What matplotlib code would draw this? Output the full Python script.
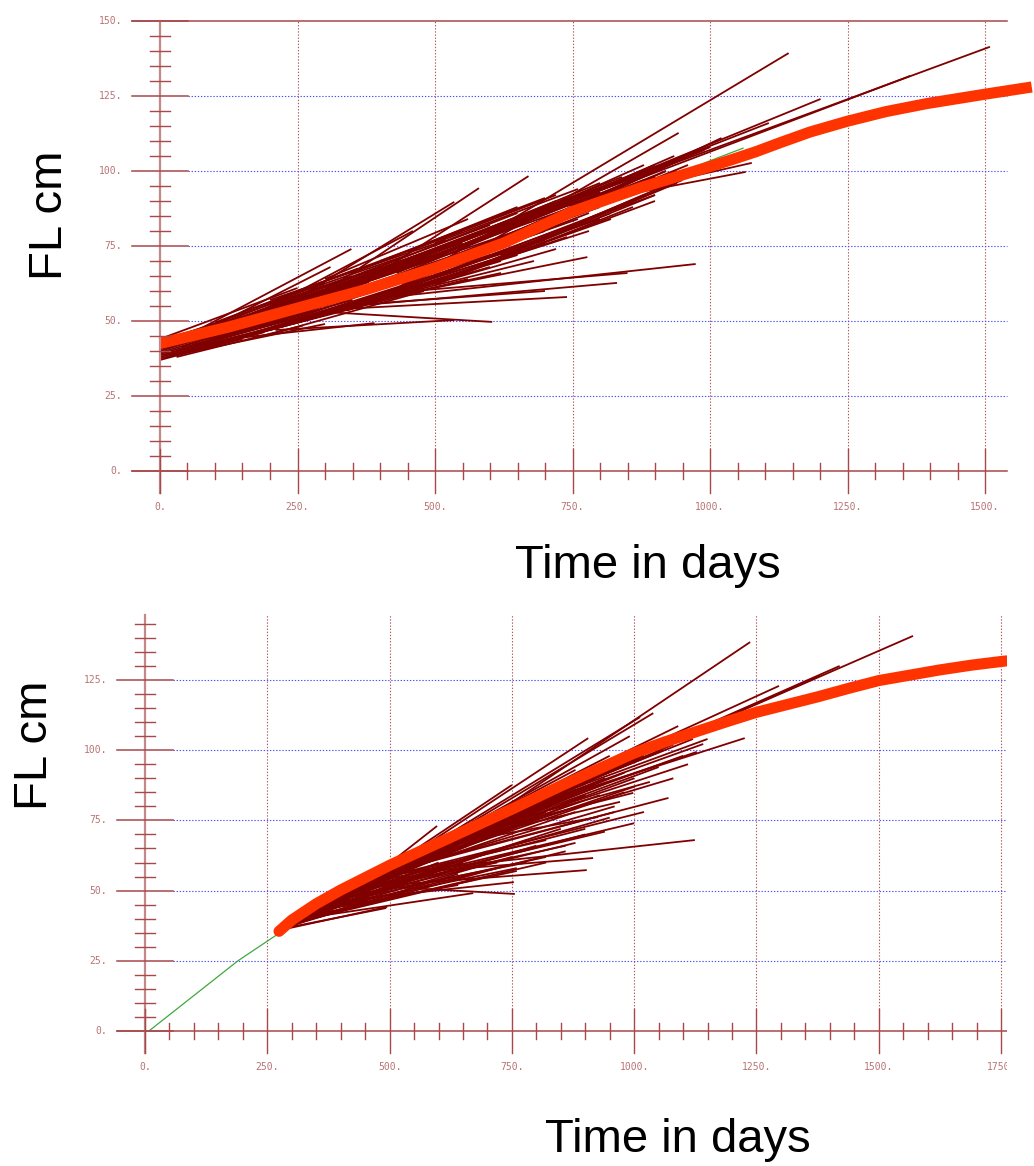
import matplotlib
matplotlib.use("Agg")
import matplotlib.pyplot as plt
from matplotlib.collections import LineCollection

W, H = 1034, 1166

# ---------------- dati: pannello alto ----------------
top_curve_t = [0, 125, 250, 375, 500, 625, 750, 875, 1000, 1040, 1083, 1130, 1182,
               1250, 1320, 1395, 1500, 1585]
top_curve_fl = [42.5, 48.0, 54.3, 60.5, 67.7, 76.0, 86.5, 94.5, 101.5, 103.8, 106.4,
                109.6, 113.0, 116.6, 119.8, 122.5, 125.6, 128.0]
top_green_t = [940, 1000, 1060]
top_green_fl = [99.0, 103.4, 107.6]

# (giorno rilascio, FL rilascio, giorno ricattura, FL ricattura)
top_tags = [
    # bordo inferiore
    (0, 37.0, 190, 46.3), (10, 38.0, 300, 49.0), (150, 44.5, 390, 49.3),
    (210, 47.0, 535, 50.3), (300, 53.0, 604, 49.7), (330, 54.0, 740, 58.0),
    (380, 55.5, 831, 62.7), (420, 58.0, 974, 69.0), (430, 58.5, 777, 71.3),
    (400, 56.0, 700, 60.0), (460, 60.0, 850, 66.0),
    # bordo superiore
    (69, 47.0, 348, 74.0), (100, 48.5, 310, 68.0), (150, 50.0, 460, 80.0),
    (200, 52.0, 535, 89.7), (260, 55.0, 580, 94.3), (330, 58.0, 670, 98.3),
    (400, 57.5, 1143, 139.3), (520, 68.0, 943, 112.7), (560, 71.0, 1021, 111.0),
    (600, 80.0, 1509, 141.4), (620, 80.0, 1364, 131.7), (640, 82.0, 1201, 124.0),
    (660, 84.0, 1107, 116.0), (700, 87.0, 1065, 99.7), (720, 88.0, 1076, 102.7),
    (680, 86.0, 1000, 108.0), (700, 88.0, 960, 105.0), (650, 83.0, 990, 107.0),
    (610, 79.0, 935, 105.0),
    # nucleo
    (0, 38.0, 300, 52.0), (0, 39.0, 350, 57.0), (0, 40.0, 400, 62.0),
    (0, 41.0, 250, 56.0), (0, 42.0, 300, 60.0), (0, 43.0, 350, 65.0),
    (0, 44.0, 250, 61.0), (0, 40.5, 450, 66.0), (0, 39.5, 200, 50.0),
    (0, 42.5, 500, 72.0), (20, 38.5, 420, 58.0), (30, 40.0, 330, 55.0),
    (40, 41.5, 480, 68.0), (50, 43.0, 380, 63.0), (60, 45.0, 300, 62.0),
    (50, 40.0, 520, 64.0), (30, 42.0, 560, 76.0), (60, 42.0, 600, 72.0),
    (100, 42.0, 500, 63.0), (100, 44.0, 450, 65.0), (100, 46.0, 550, 74.0),
    (100, 48.0, 400, 68.0), (100, 49.5, 360, 67.5), (120, 43.0, 620, 70.0),
    (120, 47.0, 650, 82.0), (150, 45.0, 600, 70.0), (150, 47.0, 500, 67.0),
    (150, 49.0, 650, 80.0), (150, 51.0, 550, 76.0), (150, 53.0, 450, 72.0),
    (170, 46.0, 700, 77.0), (200, 47.0, 650, 72.0), (200, 49.0, 700, 80.0),
    (200, 51.0, 600, 76.0), (200, 53.0, 750, 90.0), (200, 55.0, 500, 74.0),
    (200, 57.0, 520, 77.0), (220, 48.0, 560, 64.0), (250, 50.0, 700, 76.0),
    (250, 52.0, 650, 78.0), (250, 55.0, 750, 88.0), (250, 58.0, 600, 82.0),
    (250, 60.0, 550, 80.0), (270, 51.0, 800, 84.0), (300, 52.0, 720, 74.0),
    (300, 55.0, 800, 88.0), (300, 58.0, 700, 86.0), (300, 61.0, 650, 86.0),
    (300, 64.0, 560, 84.0), (320, 54.0, 620, 66.0), (350, 55.0, 780, 80.0),
    (350, 58.0, 850, 94.0), (350, 62.0, 750, 91.0), (350, 66.0, 650, 88.0),
    (370, 56.0, 680, 70.0), (400, 58.0, 760, 82.0), (400, 62.0, 880, 97.0),
    (400, 66.0, 800, 96.0), (400, 70.0, 700, 91.0), (420, 60.0, 900, 92.0),
    (450, 60.0, 820, 84.0), (450, 64.0, 900, 100.0), (450, 68.0, 850, 98.0),
    (450, 73.0, 720, 92.0), (500, 62.0, 860, 88.0), (500, 66.0, 950, 104.0),
    (500, 71.0, 880, 102.0), (500, 76.0, 760, 94.0), (550, 66.0, 900, 92.0),
    (550, 72.0, 980, 107.0), (560, 78.0, 840, 98.0), (600, 70.0, 950, 97.0),
    (600, 76.0, 1000, 108.0), (620, 82.0, 900, 101.0), (650, 74.0, 980, 100.0),
    (0, 37.5, 150, 44.0), (0, 38.5, 230, 49.0), (0, 41.5, 180, 50.5),
    (0, 43.5, 150, 51.5), (10, 39.0, 280, 53.0), (10, 41.0, 330, 59.0),
    (20, 42.0, 260, 57.0), (20, 43.0, 400, 67.0), (30, 38.0, 260, 48.5),
    (40, 39.5, 380, 56.0), (40, 44.0, 300, 63.0), (60, 40.0, 450, 60.0),
    (70, 43.5, 520, 70.0), (80, 41.0, 340, 54.0), (80, 45.5, 420, 68.0),
    (90, 44.0, 650, 78.0), (110, 45.0, 480, 66.0), (130, 48.0, 560, 78.0),
    (140, 44.0, 420, 58.0), (160, 50.0, 480, 72.0), (180, 48.0, 620, 76.0),
    (180, 52.0, 700, 88.0), (190, 45.0, 480, 60.0), (210, 50.0, 660, 80.0),
    (230, 54.0, 680, 86.0), (240, 49.0, 600, 68.0), (260, 56.0, 720, 90.0),
    (280, 53.0, 760, 84.0), (280, 59.0, 640, 84.0), (310, 56.0, 820, 92.0),
    (320, 60.0, 700, 88.0), (340, 53.5, 740, 78.0), (360, 60.0, 800, 93.0),
    (380, 64.0, 760, 92.0), (390, 57.0, 860, 90.0), (410, 61.0, 820, 90.0),
    (430, 66.0, 900, 102.0), (440, 62.0, 780, 86.0), (470, 64.0, 860, 94.0),
    (480, 70.0, 820, 96.0), (520, 64.0, 900, 90.0), (520, 70.0, 940, 100.0),
    (540, 74.0, 860, 98.0), (570, 68.0, 820, 86.0), (580, 75.0, 920, 100.0),
    (620, 72.0, 880, 92.0), (640, 78.0, 960, 102.0), (660, 80.0, 900, 98.0),
    (680, 76.0, 940, 96.0), (700, 82.0, 920, 100.0),
]

# ---------------- dati: pannello basso ----------------
bot_curve_t = [274, 300, 350, 400, 500, 625, 750, 850, 1000, 1060, 1125, 1190, 1250,
               1375, 1440, 1500, 1625, 1690, 1760]
bot_curve_fl = [35.5, 39.5, 45.3, 50.2, 59.0, 69.0, 79.0, 87.3, 99.0, 102.8, 106.5,
                110.2, 113.5, 119.0, 122.1, 124.8, 128.6, 130.3, 131.8]
bot_green_t = [8, 190, 274]
bot_green_fl = [0.0, 25.0, 34.8]

bot_tags = [
    # bordo inferiore
    (278, 36.0, 495, 44.2), (300, 39.5, 671, 49.1), (430, 52.0, 756, 48.8),
    (350, 45.5, 754, 53.0), (390, 50.5, 903, 57.3), (440, 55.0, 916, 61.6),
    (460, 55.5, 1124, 68.0), (282, 36.5, 493, 43.8),
    # sopra e oltre la curva
    (700, 75.5, 1237, 138.5), (620, 69.0, 1296, 122.9), (640, 70.0, 1570, 140.7),
    (660, 71.5, 1420, 130.0), (680, 73.0, 1380, 126.5), (700, 75.0, 1226, 104.3),
    (690, 74.0, 1141, 102.2), (680, 73.0, 1128, 99.4), (650, 70.0, 1032, 88.7),
    (640, 69.0, 998, 84.8), (620, 67.0, 971, 81.6), (600, 66.0, 926, 76.2),
    (480, 57.0, 597, 73.0), (500, 58.5, 750, 87.6), (520, 60.0, 906, 104.3),
    (540, 61.5, 1012, 111.8), (560, 63.0, 1039, 113.2), (580, 65.0, 1090, 108.6),
    (590, 66.0, 991, 105.0), (600, 67.0, 880, 93.0), (620, 68.5, 950, 98.0),
    # nucleo
    (280, 36.5, 500, 52.0), (280, 37.0, 550, 55.0), (285, 37.5, 600, 57.0),
    (290, 38.5, 650, 60.0), (295, 39.0, 700, 64.0), (300, 39.5, 560, 57.0),
    (300, 39.5, 750, 62.0), (310, 41.0, 620, 64.0), (310, 40.5, 800, 66.0),
    (320, 42.0, 700, 70.0), (320, 41.5, 520, 54.5), (330, 43.0, 850, 72.0),
    (340, 44.0, 640, 66.0), (350, 45.0, 780, 74.0), (350, 44.5, 900, 70.0),
    (360, 46.0, 560, 61.0), (370, 47.0, 820, 78.0), (380, 48.0, 700, 71.0),
    (380, 47.5, 950, 76.0), (400, 50.0, 760, 76.0), (400, 49.5, 880, 78.0),
    (410, 51.0, 640, 66.0), (420, 51.5, 850, 82.0), (430, 52.5, 980, 85.0),
    (440, 53.5, 720, 74.0), (450, 54.3, 900, 86.0), (460, 55.0, 800, 78.0),
    (470, 56.0, 1000, 90.0), (480, 57.0, 860, 84.0), (490, 57.5, 700, 72.0),
    (500, 58.5, 940, 90.0), (510, 59.0, 780, 78.0), (520, 60.0, 1050, 94.0),
    (530, 61.0, 880, 86.0), (540, 62.0, 760, 76.0), (550, 62.7, 960, 93.0),
    (560, 63.5, 840, 82.0), (570, 64.5, 1100, 98.0), (580, 65.5, 900, 88.0),
    (600, 67.0, 1000, 96.0), (620, 68.5, 860, 85.0), (640, 70.0, 1060, 100.0),
    (660, 71.5, 920, 90.0), (680, 73.0, 1000, 97.0), (700, 75.0, 950, 93.0),
    (720, 76.5, 1150, 104.0), (740, 78.0, 1000, 96.0),
    (300, 39.0, 820, 60.0), (320, 41.0, 860, 64.0), (340, 43.0, 760, 58.0),
    (360, 45.0, 880, 67.0), (400, 48.5, 940, 71.0), (420, 50.0, 1000, 74.0),
    (450, 53.0, 1020, 78.0), (480, 55.5, 960, 80.0), (500, 57.0, 1070, 83.0),
    (520, 58.5, 1000, 87.0), (550, 61.0, 930, 84.0), (580, 64.0, 1080, 90.0),
    (600, 66.0, 1110, 95.0),
    (276, 35.8, 420, 46.0), (278, 36.2, 460, 47.0), (280, 36.6, 580, 52.0),
    (282, 36.8, 640, 56.0), (284, 37.2, 720, 58.0), (286, 37.6, 540, 54.0),
    (288, 38.0, 680, 63.0), (292, 38.6, 600, 60.0), (296, 39.2, 780, 68.0),
    (300, 39.8, 660, 66.0), (305, 40.4, 540, 57.0), (315, 41.5, 740, 72.0),
    (325, 42.6, 600, 63.0), (335, 43.7, 800, 76.0), (345, 44.8, 700, 73.0),
    (355, 45.8, 620, 66.0), (365, 46.8, 860, 80.0), (375, 47.7, 760, 78.0),
    (385, 48.7, 680, 72.0), (395, 49.7, 900, 84.0), (405, 50.6, 820, 80.0),
    (415, 51.4, 740, 76.0), (425, 52.3, 940, 88.0), (435, 53.1, 860, 84.0),
    (445, 53.9, 660, 68.0), (455, 54.7, 780, 80.0), (465, 55.5, 920, 88.0),
    (475, 56.4, 700, 72.0), (485, 57.2, 840, 84.0), (495, 58.1, 980, 92.0),
    (505, 58.9, 760, 80.0), (515, 59.8, 900, 90.0), (525, 60.6, 820, 84.0),
    (535, 61.4, 1000, 96.0), (545, 62.2, 880, 88.0), (555, 63.0, 780, 80.0),
    (565, 63.8, 960, 94.0), (575, 64.6, 860, 87.0), (585, 65.4, 1020, 98.0),
    (595, 66.2, 840, 84.0), (610, 67.4, 980, 96.0), (630, 69.0, 900, 90.0),
    (650, 70.6, 1040, 100.0), (670, 72.2, 880, 88.0), (690, 73.8, 1080, 102.0),
    (710, 75.3, 960, 94.0), (730, 76.9, 1120, 104.0), (750, 78.5, 1000, 97.0),
    (290, 38.0, 700, 55.0), (310, 40.0, 760, 57.0), (330, 42.0, 640, 52.0),
    (350, 44.0, 820, 62.0), (370, 46.0, 780, 60.0), (390, 48.0, 860, 66.0),
    (410, 49.5, 720, 60.0), (430, 51.0, 900, 72.0), (460, 53.5, 820, 68.0),
    (490, 56.0, 960, 78.0),
]

top_x_major = [0, 250, 500, 750, 1000, 1250, 1500]
top_y_major = [0, 25, 50, 75, 100, 125, 150]
bot_x_major = [0, 250, 500, 750, 1000, 1250, 1500, 1750]
bot_y_major = [0, 25, 50, 75, 100, 125]

AX_COL = "#a8484a"
LBL_COL = "#b87474"
GRID_RED = "#b05858"
GRID_BLUE = "#4b4bff"
TAG_COL = "#800000"
CURVE_COL = "#ff3300"
GREEN_COL = "#3fa83f"


def make_axes(fig, row_top, row_bottom, x0px, sx, y0px, sy, col_right=W):
    """Axes senza cornice, con limiti scelti perche' 1 giorno = sx px, 1 cm = sy px."""
    ax = fig.add_axes([0, 1 - row_bottom / H, col_right / W, (row_bottom - row_top) / H])
    ax.set_xlim(-x0px / sx, (col_right - x0px) / sx)
    ax.set_ylim((y0px - row_bottom) / sy, (y0px - row_top) / sy)
    ax.axis("off")
    return ax


def draw_frame(ax, sx, sy, x_major, y_major, x_end, y_top, border):
    dx = lambda p: p / sx
    dy = lambda p: p / sy
    dots = (0, (1.2, 1.6))
    # griglia
    for xv in x_major[1:]:
        ax.plot([xv, xv], [dy(22), y_top], color=GRID_RED, lw=0.8, ls=dots, zorder=1)
    for yv in y_major[1:]:
        if border and yv == y_major[-1]:
            continue
        ax.plot([dx(28), x_end], [yv, yv], color=GRID_BLUE, lw=0.8, ls=dots, zorder=1)
    if border:
        ax.plot([dx(-28), x_end], [y_top, y_top], color=AX_COL, lw=1.1, zorder=5)
    # assi
    ax.plot([dx(-28), x_end], [0, 0], color=AX_COL, lw=1.1, zorder=5)
    ax.plot([0, 0], [dy(-22), y_top], color="#c48888", lw=1.6, zorder=5)
    # tacche y
    for yv in y_major:
        ax.plot([dx(-28), dx(28)], [yv, yv], color=AX_COL, lw=1.1, zorder=5)
        ax.text(-dx(38), yv, f"{yv}.", ha="right", va="center", fontsize=7,
                family="DejaVu Sans Mono", color=LBL_COL, clip_on=True)
    yv = 5
    while yv < y_top - 1:
        if yv % 25:
            ax.plot([dx(-10), dx(10)], [yv, yv], color=AX_COL, lw=1.0, zorder=5)
        yv += 5
    # tacche x
    for xv in x_major:
        ax.plot([xv, xv], [dy(-22), dy(22)], color=AX_COL, lw=1.0, zorder=5)
        ax.text(xv, -dy(36), f"{xv}.", ha="center", va="center", fontsize=7,
                family="DejaVu Sans Mono", color=LBL_COL, clip_on=True)
    xv = 50
    while xv < x_end:
        if xv % 250:
            ax.plot([xv, xv], [dy(-8), dy(8)], color=AX_COL, lw=1.0, zorder=5)
        xv += 50


def draw_data(ax, tags, green_t, green_fl, curve_t, curve_fl, cap):
    segs = [[(t1, l1), (t2, l2)] for t1, l1, t2, l2 in tags]
    ax.add_collection(LineCollection(segs, colors=TAG_COL, linewidths=1.3, zorder=2))
    ax.plot(green_t, green_fl, color=GREEN_COL, lw=0.9, zorder=3)
    ax.plot(curve_t, curve_fl, color=CURVE_COL, lw=8, solid_capstyle=cap,
            solid_joinstyle="round", zorder=4)


fig = plt.figure(figsize=(W / 100, H / 100), dpi=100)

# pannello alto: 0 giorni a x=160 px, 0 cm a y=471 px
sx_t, sy_t = 137.5 / 250, 3.0
ax_t = make_axes(fig, 0, 525, 160, sx_t, 471, sy_t)
draw_frame(ax_t, sx_t, sy_t, top_x_major, top_y_major, 847 / sx_t, 150, True)
draw_data(ax_t, top_tags, top_green_t, top_green_fl, top_curve_t, top_curve_fl, "butt")

# pannello basso: 0 giorni a x=145 px, 0 cm a y=1031 px
sx_b, sy_b = 122.3 / 250, 70.2 / 25
ax_b = make_axes(fig, 575, H, 145, sx_b, 1031, sy_b, col_right=1007)
draw_frame(ax_b, sx_b, sy_b, bot_x_major, bot_y_major, 862 / sx_b, 416 / sy_b, False)
draw_data(ax_b, bot_tags, bot_green_t, bot_green_fl, bot_curve_t, bot_curve_fl, "round")

big = dict(fontsize=34, family="Liberation Sans", color="black", ha="center", va="center")
fig.text(50 / W, 1 - 215 / H, "FL cm", rotation=90, **big)
fig.text(648 / W, 1 - 566 / H, "Time in days", **big)
fig.text(35 / W, 1 - 745 / H, "FL cm", rotation=90, **big)
fig.text(678 / W, 1 - 1140 / H, "Time in days", **big)

fig.savefig("out.png", dpi=100)
